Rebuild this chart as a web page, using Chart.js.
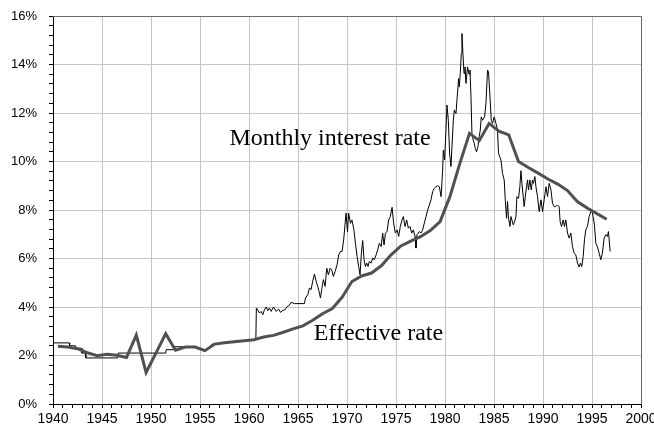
<!DOCTYPE html>
<html>
<head>
<meta charset="utf-8">
<script src="https://cdn.jsdelivr.net/npm/chart.js@4/dist/chart.umd.min.js"></script>
<style>
  html, body { margin: 0; padding: 0; background: #fff; }
  #wrap { width: 654px; height: 428px; }
</style>
</head>
<body>
<div id="wrap"><canvas id="c" width="654" height="428"></canvas></div>
<script>
// ---- Data ----
const effectiveYears = [1940.5,1941.5,1942.5,1943.5,1944.5,1945.5,1946.5,1947.5,1948.5,1949.5,
  1950.5,1951.5,1952.5,1953.5,1954.5,1955.5,1956.5,1957.5,1958.5,1959.5,
  1960.5,1961.5,1962.5,1963.5,1964.5,1965.5,1966.5,1967.5,1968.5,1969.5,
  1970.5,1971.5,1972.5,1973.5,1974.5,1975.5,1976.5,1977.5,1978.5,1979.5,
  1980.5,1981.5,1982.5,1983.5,1984.5,1985.5,1986.5,1987.5,1988.5,1989.5,
  1990.5,1991.5,1992.5,1993.5,1994.5,1995.5,1996.5];
const effectiveRate = [2.38,2.35,2.28,2.12,1.99,2.05,2.01,1.92,2.84,1.30,
  2.10,2.90,2.22,2.35,2.35,2.20,2.47,2.53,2.57,2.61,
  2.65,2.76,2.83,2.96,3.10,3.22,3.45,3.72,3.94,4.40,
  5.05,5.28,5.40,5.70,6.15,6.52,6.72,6.90,7.15,7.52,
  8.55,9.90,11.16,10.86,11.57,11.25,11.10,10.00,9.75,9.52,
  9.28,9.07,8.80,8.35,8.08,7.85,7.62];

const monthlyYears = [1940.00,1941.65,1941.70,1942.30,1942.35,1942.90,1942.95,1943.30,1943.35,1946.60,
  1946.65,1951.50,1951.55,1952.30,1952.35,1953.80,1954.50,1955.40,1955.80,1956.20,
  1957.30,1958.40,1959.40,1960.70,1960.75,1961.07,1961.24,1961.41,1961.58,1961.75,
  1961.92,1962.09,1962.26,1962.50,1962.77,1963.01,1963.21,1963.45,1963.69,1963.89,
  1964.06,1964.30,1964.64,1965.66,1965.76,1966.00,1966.17,1966.34,1966.50,1966.68,
  1966.85,1967.01,1967.19,1967.29,1967.42,1967.59,1967.77,1967.93,1968.10,1968.28,
  1968.44,1968.61,1968.79,1968.99,1969.15,1969.33,1969.50,1969.66,1969.80,1969.90,
  1970.05,1970.17,1970.35,1970.50,1970.70,1970.86,1971.03,1971.19,1971.33,1971.47,
  1971.60,1971.74,1971.88,1972.01,1972.15,1972.28,1972.46,1972.62,1972.79,1972.97,
  1973.13,1973.30,1973.48,1973.64,1973.78,1973.92,1974.09,1974.25,1974.42,1974.60,
  1974.76,1974.93,1975.11,1975.27,1975.44,1975.62,1975.75,1975.92,1976.09,1976.26,
  1976.43,1976.60,1976.77,1976.94,1977.04,1977.14,1977.38,1977.55,1977.72,1977.89,
  1978.06,1978.23,1978.40,1978.57,1978.74,1978.91,1979.08,1979.25,1979.42,1979.60,
  1979.76,1979.83,1979.96,1980.10,1980.20,1980.34,1980.47,1980.61,1980.71,1980.85,
  1980.95,1981.12,1981.22,1981.39,1981.46,1981.56,1981.66,1981.73,1981.83,1981.94,
  1982.04,1982.14,1982.30,1982.45,1982.55,1982.65,1982.75,1982.88,1982.98,1983.09,
  1983.22,1983.36,1983.49,1983.60,1983.70,1983.83,1984.04,1984.18,1984.34,1984.44,
  1984.59,1984.72,1984.85,1985.02,1985.20,1985.36,1985.46,1985.71,1985.87,1986.04,
  1986.15,1986.28,1986.38,1986.48,1986.63,1986.73,1986.96,1987.09,1987.24,1987.34,
  1987.50,1987.64,1987.75,1987.85,1987.98,1988.08,1988.19,1988.32,1988.42,1988.52,
  1988.66,1988.80,1988.93,1989.03,1989.17,1989.28,1989.44,1989.61,1989.79,1989.95,
  1990.12,1990.30,1990.46,1990.63,1990.81,1990.97,1991.14,1991.31,1991.48,1991.65,
  1991.75,1991.89,1992.06,1992.19,1992.33,1992.50,1992.67,1992.84,1993.01,1993.18,
  1993.35,1993.52,1993.69,1993.82,1993.96,1994.10,1994.23,1994.37,1994.53,1994.71,
  1994.88,1994.98,1995.11,1995.25,1995.39,1995.55,1995.73,1995.90,1996.06,1996.24,
  1996.41,1996.57,1996.68,1996.85];
const monthlyRate = [2.52,2.52,2.40,2.40,2.30,2.30,2.10,2.10,1.90,1.90,
  2.10,2.10,2.24,2.24,2.36,2.36,2.34,2.20,2.28,2.46,
  2.52,2.58,2.62,2.65,3.96,3.75,3.82,3.68,3.89,4.00,
  3.85,3.96,3.82,4.00,3.82,3.92,3.78,3.86,3.89,4.02,
  4.05,4.19,4.14,4.14,4.37,4.51,4.78,4.72,5.06,5.36,
  5.06,4.85,4.58,4.37,4.72,5.13,4.85,5.60,5.33,5.60,
  5.53,5.26,5.47,5.74,6.15,6.29,6.29,6.77,7.40,7.87,
  7.10,7.87,7.45,7.59,7.20,6.63,6.08,5.67,5.33,6.22,
  6.74,5.95,5.67,5.81,5.67,5.88,5.81,6.01,5.95,6.15,
  6.36,6.63,6.49,7.05,6.56,7.05,7.11,7.59,7.73,8.11,
  7.46,7.05,7.18,6.91,7.32,7.59,7.73,7.32,7.59,7.25,
  7.32,7.05,7.18,6.91,6.43,6.98,7.11,7.05,7.18,7.46,
  7.73,8.00,8.21,8.42,8.76,8.90,8.96,9.00,8.96,8.55,
  9.65,10.47,10.06,11.30,12.33,11.70,10.34,9.79,10.61,11.70,
  12.12,11.98,12.53,13.42,13.08,13.63,14.45,15.28,14.45,13.63,
  13.90,13.22,13.90,13.60,13.77,12.67,11.16,10.88,10.75,10.54,
  10.40,10.61,11.02,11.30,11.84,11.70,11.84,12.40,13.77,13.70,
  12.67,11.70,11.57,11.84,11.57,11.30,10.34,10.06,9.51,9.24,
  8.42,7.66,8.35,7.66,7.32,7.73,7.39,7.50,7.73,8.55,
  8.48,8.96,9.62,9.10,8.55,8.14,8.55,8.96,9.24,8.83,
  9.24,8.83,9.24,9.10,9.38,8.96,8.55,7.93,8.42,7.93,
  8.42,8.96,8.55,9.10,8.83,8.28,8.14,8.14,8.21,8.14,
  7.52,7.32,7.59,7.32,7.59,7.05,6.84,7.05,6.49,6.22,
  6.15,5.81,5.65,5.81,5.67,6.08,6.77,7.18,7.32,7.73,
  7.93,8.00,7.73,7.39,6.63,6.49,6.22,5.95,6.22,6.84,
  6.98,6.91,7.11,6.29];

const xTickYears = [1940,1945,1950,1955,1960,1965,1970,1975,1980,1985,1990,1995,2000];
const yTickPercents = [0,2,4,6,8,10,12,14,16];

const notes = [
  { text: 'Monthly interest rate', year: 1958.0, rate: 10.68 },
  { text: 'Effective rate', year: 1966.6, rate: 2.63 }
];

// ---- Chart ----
const isMajorX = v => xTickYears.includes(Math.round(v)) && Math.abs(v - Math.round(v)) < 1e-6;
const isMajorY = v => yTickPercents.some(p => Math.abs(v - p) < 1e-6);

const framePlugin = {
  id: 'frame',
  beforeDatasetsDraw(chart) {
    const { ctx, chartArea: a } = chart;
    ctx.save();
    ctx.strokeStyle = '#6a6a6a';
    ctx.lineWidth = 1;
    ctx.beginPath();
    ctx.moveTo(a.left, Math.round(a.top) + 0.5);
    ctx.lineTo(Math.round(a.right) + 0.5, Math.round(a.top) + 0.5);
    ctx.lineTo(Math.round(a.right) + 0.5, a.bottom);
    ctx.stroke();
    ctx.restore();
  },
  afterDatasetsDraw(chart) {
    const { ctx } = chart;
    const xs = chart.scales.x, ys = chart.scales.y;
    ctx.save();
    ctx.font = '24px "Liberation Serif", "Times New Roman", serif';
    ctx.fillStyle = '#000';
    ctx.textAlign = 'left';
    ctx.textBaseline = 'alphabetic';
    notes.forEach(n => {
      ctx.fillText(n.text, xs.getPixelForValue(n.year), ys.getPixelForValue(n.rate));
    });
    ctx.restore();
  }
};

new Chart(document.getElementById('c'), {
  type: 'line',
  data: {
    datasets: [
      {
        label: 'Effective rate',
        data: effectiveYears.map((x, i) => ({ x, y: effectiveRate[i] })),
        borderColor: '#505050',
        borderWidth: 3,
        pointRadius: 0,
        tension: 0,
        order: 0
      },
      {
        label: 'Monthly interest rate',
        data: monthlyYears.map((x, i) => ({ x, y: monthlyRate[i] })),
        borderColor: '#000000',
        borderWidth: 1,
        pointRadius: 0,
        tension: 0,
        order: 1
      }
    ]
  },
  options: {
    responsive: false,
    animation: false,
    devicePixelRatio: 1,
    layout: { padding: { left: 0, right: 13, top: 16, bottom: 0 } },
    plugins: { legend: { display: false }, tooltip: { enabled: false } },
    scales: {
      x: {
        type: 'linear',
        min: 1940,
        max: 2000,
        ticks: {
          stepSize: 1,
          autoSkip: false,
          maxRotation: 0,
          minRotation: 0,
          padding: 3,
          color: '#000',
          font: { family: '"Liberation Sans", Arial, sans-serif', size: 14 },
          callback: v => isMajorX(v) ? String(Math.round(v)) : ''
        },
        grid: {
          color: c => (c.tick && isMajorX(c.tick.value) && c.tick.value > 1940 && c.tick.value < 2000) ? '#c4c4c4' : 'rgba(0,0,0,0)',
          tickColor: '#000',
          tickLength: 4,
          drawTicks: true
        },
        border: { color: '#000', width: 1 },
        afterFit: s => { s.height = 24; s.paddingLeft = 0; s.paddingRight = 0; }
      },
      y: {
        type: 'linear',
        min: 0,
        max: 16,
        ticks: {
          stepSize: 0.4,
          autoSkip: false,
          padding: 12,
          color: '#000',
          font: { family: '"Liberation Sans", Arial, sans-serif', size: 13 },
          callback: v => isMajorY(v) ? Math.round(v) + '%' : ''
        },
        grid: {
          color: c => (c.tick && isMajorY(c.tick.value) && c.tick.value > 0.1 && c.tick.value < 15.9) ? '#c4c4c4' : 'rgba(0,0,0,0)',
          tickColor: '#000',
          tickLength: 4,
          drawTicks: true
        },
        border: { color: '#000', width: 1 },
        afterFit: s => { s.width = 53; s.paddingTop = 0; s.paddingBottom = 0; }
      }
    }
  },
  plugins: [framePlugin]
});
</script>
</body>
</html>
